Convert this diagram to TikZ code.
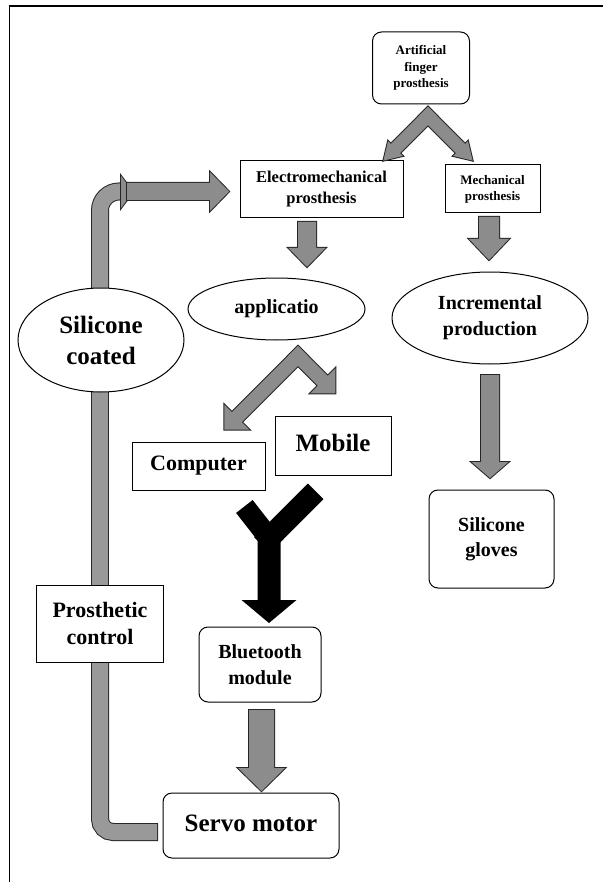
\documentclass[tikz,border=0pt]{standalone}
\usepackage{fontspec}
\setmainfont{Liberation Serif}
\usetikzlibrary{shapes.geometric,backgrounds}
% arrow polygon along local +x: length, shaft width, head width, head length, tail start
\newcommand\arrowpoly[5]{(#5,{-#2/2}) -- ({#1-#4},{-#2/2}) -- ({#1-#4},{-#3/2}) -- (#1,0) -- ({#1-#4},{#3/2}) -- ({#1-#4},{#2/2}) -- (#5,{#2/2}) -- cycle}
\newcommand\barpoly[3]{(#3,{-#2/2}) -- (#1,{-#2/2}) -- (#1,{#2/2}) -- (#3,{#2/2}) -- cycle}
\begin{document}
\begin{tikzpicture}[x=1pt,y=-1pt,
  box/.style={draw, line width=1pt, fill=white, align=center, inner sep=0pt, font=\bfseries},
  rbox/.style={box, rounded corners=9pt},
  oval/.style={ellipse, draw, line width=1pt, fill=white, align=center, inner sep=0pt, font=\bfseries},
  aout/.style={draw=black!85, line width=2pt, line join=miter},
  afill/.style={fill=black!45},
  pipeout/.style={draw=black!85, line width=18pt, line cap=rect},
  pipein/.style={draw=black!40, line width=16pt, line cap=rect},
]
\useasboundingbox (0,0) rectangle (603,882);

% nodes
\node[rbox, minimum width=97pt, minimum height=72pt, font=\bfseries\fontsize{13}{16.5}\selectfont] (art) at (421,68) {Artificial\\finger\\prosthesis};
\node[box, minimum width=163pt, minimum height=57pt, font=\bfseries\fontsize{16.5}{21}\selectfont] (elec) at (321.5,189.5) {Electromechanical\\prosthesis};
\node[box, minimum width=95pt, minimum height=48pt, font=\bfseries\fontsize{13}{16}\selectfont] (mech) at (492.5,189) {Mechanical\\prosthesis};
\node[oval, minimum width=177pt, minimum height=62pt, font=\bfseries\fontsize{20}{24}\selectfont] (app) at (276.5,309) {applicatio};
\node[oval, minimum width=196pt, minimum height=92pt, font=\bfseries\fontsize{20}{26}\selectfont] (incr) at (490,318) {Incremental\\production};
\node[oval, minimum width=166pt, minimum height=104pt, font=\bfseries\fontsize{25}{31}\selectfont] (sil) at (101,340) {Silicone\\coated};
\node[box, minimum width=133pt, minimum height=48pt, font=\bfseries\fontsize{22}{26}\selectfont] (comp) at (198.5,466) {Computer};
\node[box, minimum width=116pt, minimum height=59pt, font=\bfseries\fontsize{25}{30}\selectfont] (mob) at (333,445.5) {\raisebox{5pt}{Mobile}};
\node[rbox, minimum width=125pt, minimum height=98pt, font=\bfseries\fontsize{20}{25}\selectfont] (glov) at (491.5,539) {\raisebox{6pt}{\begin{tabular}{@{}c@{}}Silicone\\gloves\end{tabular}}};
\node[box, minimum width=127pt, minimum height=77pt, font=\bfseries\fontsize{22}{27}\selectfont] (pc) at (100,623.5) {Prosthetic\\control};
\node[rbox, minimum width=122pt, minimum height=75pt, font=\bfseries\fontsize{20}{26}\selectfont] (bt) at (260,664.5) {Bluetooth\\module};
\node[rbox, minimum width=176pt, minimum height=65pt, font=\bfseries\fontsize{25}{30}\selectfont] (servo) at (251,825.5) {\raisebox{4pt}{Servo motor}};

\coordinate (hb) at (121,191.5);
\coordinate (pe) at (149,832);

\begin{pgfonlayer}{background}
  \fill[white] (0,0) rectangle (603,882);
  \draw[line width=1.3pt] (9.5,882) -- (9.5,6) -- (603,6);
  % bent pipe from silicone coated to electromechanical
  \draw[pipeout, rounded corners=19pt] (sil.center -| 100,0) |- (hb);
  \draw[pipein, rounded corners=19pt] (sil.center -| 100,0) |- (hb);
  % straight pipe silicone coated -- prosthetic control
  \draw[pipeout, line cap=butt] (sil.center -| 100,0) -- (pc.center -| 100,0);
  \draw[pipein, line cap=butt] (sil.center -| 100,0) -- (pc.center -| 100,0);
  % L pipe prosthetic control -- servo motor
  \draw[pipeout, rounded corners=13pt] (pc.center -| 100,0) |- (pe);
  \draw[pipein, rounded corners=13pt] (pc.center -| 100,0) |- (pe);
\end{pgfonlayer}

% small head of the bent pipe and straight arrow to electromechanical
\draw[aout] (121,176) -- (133,192) -- (121,208) -- cycle;
\fill[afill] (121,176) -- (133,192) -- (121,208) -- cycle;
\draw[aout, shift={(127,191.5)}] \arrowpoly{102}{17}{39}{19}{0};
\fill[afill, shift={(127,191.5)}] \arrowpoly{102}{17}{39}{19}{0};

% chevron from artificial finger prosthesis
\draw[aout, shift={(428,116)}, rotate=225] \arrowpoly{63}{13}{21}{17}{-6.5};
\draw[aout, shift={(428,116)}, rotate=-45] \arrowpoly{63}{13}{21}{17}{-6.5};
\fill[afill, shift={(428,116)}, rotate=225] \arrowpoly{63}{13}{21}{17}{-6.5};
\fill[afill, shift={(428,116)}, rotate=-45] \arrowpoly{63}{13}{21}{17}{-6.5};

% straight down arrows
\draw[aout, shift={(307,222)}, rotate=-90] \arrowpoly{45}{18}{37}{19}{0};
\fill[afill, shift={(307,222)}, rotate=-90] \arrowpoly{45}{18}{37}{19}{0};
\draw[aout, shift={(489,217)}, rotate=-90] \arrowpoly{43}{20}{40}{21}{0};
\fill[afill, shift={(489,217)}, rotate=-90] \arrowpoly{43}{20}{40}{21}{0};
\draw[aout, shift={(490,375)}, rotate=-90] \arrowpoly{103}{18}{37}{16}{0};
\fill[afill, shift={(490,375)}, rotate=-90] \arrowpoly{103}{18}{37}{16}{0};
\draw[aout, shift={(261.5,710)}, rotate=-90] \arrowpoly{81}{25}{47}{23}{0};
\fill[afill, shift={(261.5,710)}, rotate=-90] \arrowpoly{81}{25}{47}{23}{0};

% zigzag from applicatio
\draw[aout, shift={(298,356)}, rotate=-45] \arrowpoly{53}{14}{36}{18}{-7};
\draw[aout, shift={(298,356)}, rotate=225] \arrowpoly{104}{14}{35}{17.5}{-7};
\fill[afill, shift={(298,356)}, rotate=-45] \arrowpoly{53}{14}{36}{18}{-7};
\fill[afill, shift={(298,356)}, rotate=225] \arrowpoly{104}{14}{35}{17.5}{-7};

% black Y arrow
\fill[black, shift={(269,538)}, rotate=45] \barpoly{66}{22}{-10};
\fill[black, shift={(269,538)}, rotate=128] \barpoly{40}{21}{-10};
\fill[black, shift={(269,538)}, rotate=-90] \arrowpoly{85}{23}{55}{23}{-5};
\end{tikzpicture}
\end{document}
